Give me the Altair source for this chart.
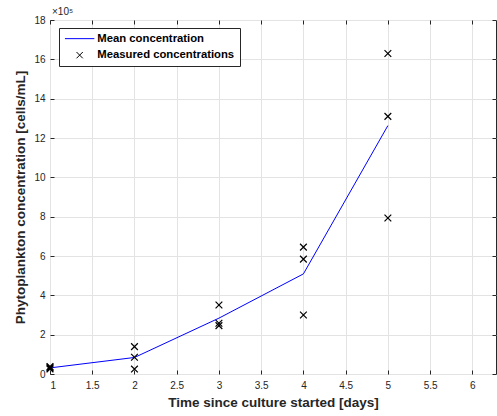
import altair as alt
import pandas as pd

# Data
mean_days = [1, 2, 3, 4, 5]
mean_conc = [0.31, 0.84, 2.84, 5.09, 12.63]  # x 10^5 cells/mL

meas_days = [1, 1, 1, 1, 2, 2, 2, 3, 3, 3, 4, 4, 4, 5, 5, 5]
meas_conc = [0.25, 0.30, 0.34, 0.38, 1.39, 0.85, 0.25,
             3.51, 2.58, 2.46, 6.45, 5.84, 3.00, 16.30, 13.10, 7.93]

x_ticks = [1, 1.5, 2, 2.5, 3, 3.5, 4, 4.5, 5, 5.5, 6]
y_ticks = [0, 2, 4, 6, 8, 10, 12, 14, 16, 18]

series = ["Mean concentration", "Measured concentrations"]

mean_df = pd.DataFrame({"day": mean_days, "conc": mean_conc, "series": series[0]})
meas_df = pd.DataFrame({"day": meas_days, "conc": meas_conc, "series": series[1]})

W, H = 446, 354
FONT = "Liberation Sans"
TXT = "#262626"

xscale = alt.Scale(domain=[1, 6.28], nice=False, zero=False)
yscale = alt.Scale(domain=[0, 18], nice=False, zero=False)

color = alt.Color("series:N", scale=alt.Scale(domain=series, range=["#0000ff", "#000000"]),
                  legend=alt.Legend(title=None))
shape = alt.Shape("series:N", scale=alt.Scale(domain=series,
                  range=["M-4.2,0L4.2,0", "M-0.9,-0.9L0.9,0.9M-0.9,0.9L0.9,-0.9"]),
                  legend=alt.Legend(title=None))

main_x = alt.Axis(values=x_ticks, format="~g", grid=True, ticks=False, domain=False,
                  title="Time since culture started [days]", orient="bottom",
                  labelPadding=6, titlePadding=5)
main_y = alt.Axis(values=y_ticks, format="~g", grid=True, ticks=False, domain=False,
                  title="Phytoplankton concentration [cells/mL]", orient="left",
                  labelPadding=5, titlePadding=6)

line = alt.Chart(mean_df).mark_line(strokeWidth=1, clip=False).encode(
    x=alt.X("day:Q", scale=xscale, axis=main_x),
    y=alt.Y("conc:Q", scale=yscale, axis=main_y),
    color=color,
)

points = alt.Chart(meas_df).mark_point(filled=False, size=56, strokeWidth=1.2,
                                       opacity=1, clip=False).encode(
    x=alt.X("day:Q", scale=xscale, axis=None),
    y=alt.Y("conc:Q", scale=yscale, axis=None),
    color=color,
    shape=shape,
)

def tick_axis(orient, offset):
    return alt.Axis(values=x_ticks if orient in ("top", "bottom") else y_ticks,
                    orient=orient, offset=offset, labels=False, grid=False, domain=False,
                    ticks=True, tickSize=4, tickColor=TXT, title=None)

ticks_a = alt.Chart(meas_df).mark_point(opacity=0).encode(
    x=alt.X("day:Q", scale=xscale, axis=tick_axis("top", -H)),
    y=alt.Y("conc:Q", scale=yscale, axis=tick_axis("right", -W)),
)
ticks_b = alt.Chart(meas_df).mark_point(opacity=0).encode(
    x=alt.X("day:Q", scale=xscale, axis=tick_axis("bottom", -H)),
    y=alt.Y("conc:Q", scale=yscale, axis=tick_axis("left", -W)),
)

exp_label = alt.Chart(pd.DataFrame({"t": ["×10⁵"]})).mark_text(
    align="left", baseline="alphabetic", fontSize=10, font=FONT, color=TXT
).encode(x=alt.value(2), y=alt.value(-5), text="t:N")

chart = alt.layer(line, points, ticks_a, ticks_b, exp_label).resolve_axis(
    x="independent", y="independent"
).properties(
    width=W, height=H,
    autosize=alt.AutoSizeParams(type="none"),
    padding={"left": 50, "top": 20, "right": 1, "bottom": 42},
).configure_view(
    stroke=TXT, strokeWidth=1
).configure_axis(
    labelFont=FONT, labelFontSize=10, labelColor=TXT,
    titleFont=FONT, titleFontSize=13.5, titleFontWeight="bold", titleColor=TXT,
    gridColor="#e3e3e3", gridWidth=1,
).configure_legend(
    orient="none", legendX=9, legendY=8,
    strokeColor=TXT, fillColor="white", padding=5,
    labelFont=FONT, labelFontSize=11.3, labelFontWeight="bold", labelColor="black",
    symbolSize=49, symbolStrokeWidth=1, rowPadding=4.5, labelOffset=12, symbolOffset=10,
)

chart.save("out.html", embed_options={"renderer": "svg", "actions": False})
